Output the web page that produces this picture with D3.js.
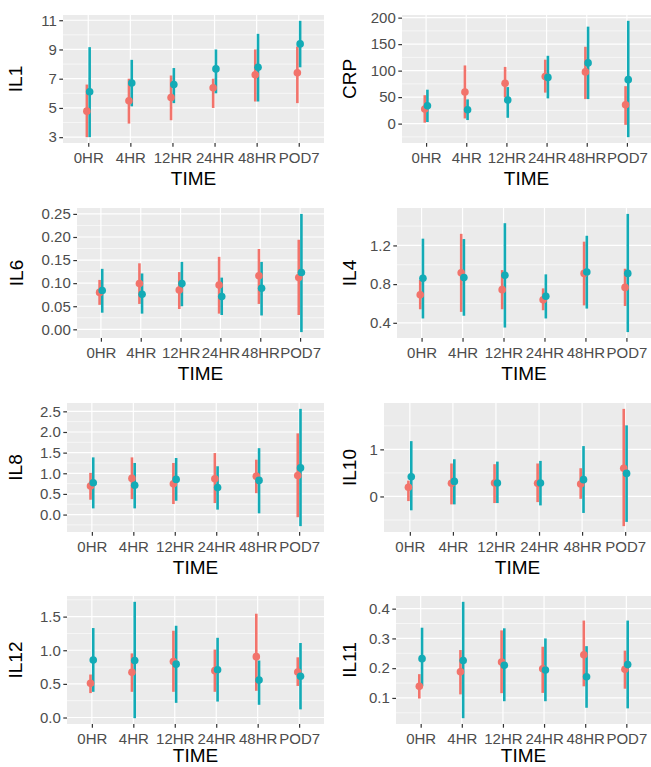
<!DOCTYPE html>
<html>
<head>
<meta charset="utf-8">
<script src="https://cdn.jsdelivr.net/npm/d3@7"></script>
<style>
  html, body { margin: 0; padding: 0; background: #ffffff; }
  svg { display: block; }
  text { font-family: "Liberation Sans", Arial, Helvetica, sans-serif; }
</style>
</head>
<body>
<svg id="chart" width="651" height="767"></svg>
<script>
// ---------------- data ----------------
const timeCategories = ["0HR", "4HR", "12HR", "24HR", "48HR", "POD7"];
const xTitle = "TIME";
const groups = ["A", "B"]; // A = salmon, B = teal

// IL1
const IL1_A_mean = [4.78, 5.49, 5.71, 6.38, 7.27, 7.40];
const IL1_A_low  = [3.00, 3.93, 4.16, 5.00, 5.44, 5.33];
const IL1_A_high = [6.60, 7.00, 7.22, 7.00, 9.00, 9.20];
const IL1_B_mean = [6.11, 6.71, 6.60, 7.67, 7.78, 9.38];
const IL1_B_low  = [3.00, 5.11, 5.33, 6.00, 5.44, 7.78];
const IL1_B_high = [9.16, 8.29, 7.73, 9.00, 10.07, 10.96];
const IL1_ticks  = [3, 5, 7, 9, 11];
const IL1_tickLabels = ["3", "5", "7", "9", "11"];

// CRP
const CRP_A_mean = [27.4, 59.8, 76.2, 89.0, 97.6, 35.4];
const CRP_A_low  = [1.8, 9.8, 49.4, 58.5, 46.3, -2.4];
const CRP_A_high = [53.7, 109.8, 107.0, 120.7, 145.0, 70.7];
const CRP_B_mean = [33.5, 26.2, 44.5, 87.2, 114.6, 83.0];
const CRP_B_low  = [3.0, 6.7, 11.0, 47.6, 46.3, -25.6];
const CRP_B_high = [64.0, 45.7, 68.9, 128.0, 183.0, 194.0];
const CRP_ticks  = [0, 50, 100, 150, 200];
const CRP_tickLabels = ["0", "50", "100", "150", "200"];

// IL6
const IL6_A_mean = [0.080, 0.099, 0.085, 0.096, 0.116, 0.112];
const IL6_A_low  = [0.053, 0.055, 0.044, 0.034, 0.055, 0.031];
const IL6_A_high = [0.107, 0.143, 0.124, 0.157, 0.174, 0.194];
const IL6_B_mean = [0.084, 0.076, 0.099, 0.071, 0.089, 0.123];
const IL6_B_low  = [0.036, 0.034, 0.050, 0.031, 0.030, -0.006];
const IL6_B_high = [0.131, 0.121, 0.146, 0.112, 0.146, 0.250];
const IL6_ticks  = [0, 0.05, 0.10, 0.15, 0.20, 0.25];
const IL6_tickLabels = ["0.00", "0.05", "0.10", "0.15", "0.20", "0.25"];

// IL4
const IL4_A_mean = [0.689, 0.918, 0.743, 0.638, 0.911, 0.766];
const IL4_A_low  = [0.540, 0.513, 0.540, 0.530, 0.580, 0.574];
const IL4_A_high = [0.844, 1.320, 0.945, 0.756, 1.239, 0.959];
const IL4_B_mean = [0.861, 0.868, 0.891, 0.675, 0.925, 0.911];
const IL4_B_low  = [0.445, 0.473, 0.351, 0.445, 0.547, 0.304];
const IL4_B_high = [1.270, 1.266, 1.430, 0.901, 1.300, 1.526];
const IL4_ticks  = [0.4, 0.8, 1.2];
const IL4_tickLabels = ["0.4", "0.8", "1.2"];

// IL8
const IL8_A_mean = [0.690, 0.876, 0.748, 0.868, 0.930, 0.947];
const IL8_A_low  = [0.360, 0.374, 0.255, 0.279, 0.518, -0.064];
const IL8_A_high = [1.010, 1.385, 1.250, 1.490, 1.330, 1.967];
const IL8_B_mean = [0.770, 0.709, 0.852, 0.653, 0.828, 1.130];
const IL8_B_low  = [0.150, 0.150, 0.334, 0.120, 0.030, -0.280];
const IL8_B_high = [1.385, 1.250, 1.370, 1.170, 1.608, 2.560];
const IL8_ticks  = [0, 0.5, 1.0, 1.5, 2.0, 2.5];
const IL8_tickLabels = ["0.0", "0.5", "1.0", "1.5", "2.0", "2.5"];

// IL10
const IL10_A_mean = [0.196, 0.280, 0.287, 0.280, 0.266, 0.600];
const IL10_A_low  = [-0.098, -0.168, -0.140, -0.120, -0.050, -0.630];
const IL10_A_high = [0.336, 0.700, 0.685, 0.700, 0.600, 1.860];
const IL10_B_mean = [0.420, 0.320, 0.287, 0.287, 0.357, 0.490];
const IL10_B_low  = [-0.294, -0.168, -0.140, -0.190, -0.350, -0.540];
const IL10_B_high = [1.175, 0.790, 0.740, 0.755, 1.070, 1.510];
const IL10_ticks  = [0, 1];
const IL10_tickLabels = ["0", "1"];

// IL12
const IL12_A_mean = [0.508, 0.672, 0.832, 0.697, 0.905, 0.677];
const IL12_A_low  = [0.363, 0.382, 0.382, 0.382, 0.397, 0.469];
const IL12_A_high = [0.639, 0.953, 1.290, 1.010, 1.543, 0.895];
const IL12_B_mean = [0.856, 0.847, 0.793, 0.711, 0.556, 0.614];
const IL12_B_low  = [0.382, -0.010, 0.218, 0.237, 0.189, 0.121];
const IL12_B_high = [1.330, 1.720, 1.364, 1.185, 0.847, 1.108];
const IL12_ticks  = [0, 0.5, 1.0, 1.5];
const IL12_tickLabels = ["0.0", "0.5", "1.0", "1.5"];

// IL11
const IL11_A_mean = [0.139, 0.188, 0.221, 0.198, 0.245, 0.196];
const IL11_A_low  = [0.098, 0.112, 0.116, 0.117, 0.139, 0.131];
const IL11_A_high = [0.180, 0.261, 0.327, 0.272, 0.360, 0.259];
const IL11_B_mean = [0.232, 0.226, 0.210, 0.194, 0.171, 0.212];
const IL11_B_low  = [0.140, 0.032, 0.089, 0.089, 0.067, 0.065];
const IL11_B_high = [0.336, 0.423, 0.334, 0.300, 0.274, 0.360];
const IL11_ticks  = [0.1, 0.2, 0.3, 0.4];
const IL11_tickLabels = ["0.1", "0.2", "0.3", "0.4"];

// ---------------- layout ----------------
const colors = { A: "#F2736B", B: "#13ABB6" };
const rows = [[15, 143], [208, 338], [403, 532], [596, 724]];
const panels = [
  { name: "IL1",  row: 0, left: 63,  right: 324, titleX: 16,
    A: [IL1_A_mean, IL1_A_low, IL1_A_high], B: [IL1_B_mean, IL1_B_low, IL1_B_high], ticks: IL1_ticks, labels: IL1_tickLabels },
  { name: "CRP",  row: 0, left: 402, right: 651, titleX: 350,
    A: [CRP_A_mean, CRP_A_low, CRP_A_high], B: [CRP_B_mean, CRP_B_low, CRP_B_high], ticks: CRP_ticks, labels: CRP_tickLabels },
  { name: "IL6",  row: 1, left: 77,  right: 324, titleX: 17,
    A: [IL6_A_mean, IL6_A_low, IL6_A_high], B: [IL6_B_mean, IL6_B_low, IL6_B_high], ticks: IL6_ticks, labels: IL6_tickLabels },
  { name: "IL4",  row: 1, left: 397, right: 651, titleX: 350,
    A: [IL4_A_mean, IL4_A_low, IL4_A_high], B: [IL4_B_mean, IL4_B_low, IL4_B_high], ticks: IL4_ticks, labels: IL4_tickLabels },
  { name: "IL8",  row: 2, left: 67,  right: 324, titleX: 16,
    A: [IL8_A_mean, IL8_A_low, IL8_A_high], B: [IL8_B_mean, IL8_B_low, IL8_B_high], ticks: IL8_ticks, labels: IL8_tickLabels },
  { name: "IL10", row: 2, left: 384, right: 651, titleX: 350,
    A: [IL10_A_mean, IL10_A_low, IL10_A_high], B: [IL10_B_mean, IL10_B_low, IL10_B_high], ticks: IL10_ticks, labels: IL10_tickLabels },
  { name: "IL12", row: 3, left: 67,  right: 324, titleX: 16,
    A: [IL12_A_mean, IL12_A_low, IL12_A_high], B: [IL12_B_mean, IL12_B_low, IL12_B_high], ticks: IL12_ticks, labels: IL12_tickLabels },
  { name: "IL11", row: 3, left: 396, right: 651, titleX: 350,
    A: [IL11_A_mean, IL11_A_low, IL11_A_high], B: [IL11_B_mean, IL11_B_low, IL11_B_high], ticks: IL11_ticks, labels: IL11_tickLabels }
];

const svg = d3.select("#chart");
const tickFont = 15;
const titleFont = 19;

panels.forEach(p => {
  const [top, bottom] = rows[p.row];
  const g = svg.append("g");

  // y domain from data with 5% expansion (ggplot default)
  const allVals = [...p.A[1], ...p.A[2], ...p.B[1], ...p.B[2], ...p.A[0], ...p.B[0]];
  const lo = d3.min(allVals), hi = d3.max(allVals);
  const pad = (hi - lo) * 0.05;
  const y = d3.scaleLinear().domain([lo - pad, hi + pad]).range([bottom, top]);
  const x = d3.scalePoint().domain(timeCategories).range([p.left, p.right]).padding(0.6);
  const dodge = x.step() * 0.033;

  // panel background
  g.append("rect").attr("x", p.left).attr("y", top)
    .attr("width", p.right - p.left).attr("height", bottom - top)
    .attr("fill", "#EBEBEB");

  // minor grid lines
  const step = p.ticks[1] - p.ticks[0];
  const minors = [];
  for (let i = -1; i < p.ticks.length; i++) {
    const v = p.ticks[0] + step * (i + 0.5);
    if (v > y.domain()[0] && v < y.domain()[1]) minors.push(v);
  }
  g.selectAll(".minor").data(minors).enter().append("line")
    .attr("x1", p.left).attr("x2", p.right)
    .attr("y1", d => y(d)).attr("y2", d => y(d))
    .attr("stroke", "#FFFFFF").attr("stroke-width", 0.6);

  // major grid lines
  g.selectAll(".hmajor").data(p.ticks).enter().append("line")
    .attr("x1", p.left).attr("x2", p.right)
    .attr("y1", d => y(d)).attr("y2", d => y(d))
    .attr("stroke", "#FFFFFF").attr("stroke-width", 1.2);
  g.selectAll(".vmajor").data(timeCategories).enter().append("line")
    .attr("x1", d => x(d)).attr("x2", d => x(d))
    .attr("y1", top).attr("y2", bottom)
    .attr("stroke", "#FFFFFF").attr("stroke-width", 1.2);

  // axes
  const yAxis = d3.axisLeft(y).tickValues(p.ticks)
    .tickFormat((d, i) => p.labels[i]).tickSize(3.7).tickPadding(2.5);
  const ya = g.append("g").attr("transform", `translate(${p.left},0)`).call(yAxis);
  const xAxis = d3.axisBottom(x).tickSize(3.7).tickPadding(6);
  const xa = g.append("g").attr("transform", `translate(0,${bottom})`).call(xAxis);
  [ya, xa].forEach(a => {
    a.select(".domain").remove();
    a.selectAll(".tick line").attr("stroke", "#333333").attr("stroke-width", 1.2);
    a.selectAll(".tick text").attr("fill", "#4D4D4D")
      .style("font-size", tickFont + "px")
      .style("font-family", "'Liberation Sans', Arial, sans-serif");
  });

  // axis titles
  g.append("text").attr("x", (p.left + p.right) / 2).attr("y", Math.min(bottom + 42, 762))
    .attr("text-anchor", "middle").attr("fill", "#000")
    .style("font-size", titleFont + "px").text(xTitle);
  g.append("text")
    .attr("transform", `translate(${p.titleX + 6},${(top + bottom) / 2}) rotate(-90)`)
    .attr("text-anchor", "middle").attr("fill", "#000")
    .style("font-size", titleFont + "px").text(p.name);

  // error bars (all), then points
  groups.forEach((grp, gi) => {
    const [mean, low, high] = p[grp];
    const off = gi === 0 ? -dodge : dodge;
    g.selectAll(".bar" + grp).data(timeCategories).enter().append("line")
      .attr("x1", (d) => x(d) + off).attr("x2", (d) => x(d) + off)
      .attr("y1", (d, i) => y(low[i])).attr("y2", (d, i) => y(high[i]))
      .attr("stroke", colors[grp]).attr("stroke-width", 2.6);
  });
  groups.forEach((grp, gi) => {
    const [mean] = p[grp];
    const off = gi === 0 ? -dodge : dodge;
    g.selectAll(".pt" + grp).data(timeCategories).enter().append("circle")
      .attr("cx", (d) => x(d) + off)
      .attr("cy", (d, i) => y(mean[i]))
      .attr("r", 3.8).attr("fill", colors[grp]);
  });
});
</script>
</body>
</html>
